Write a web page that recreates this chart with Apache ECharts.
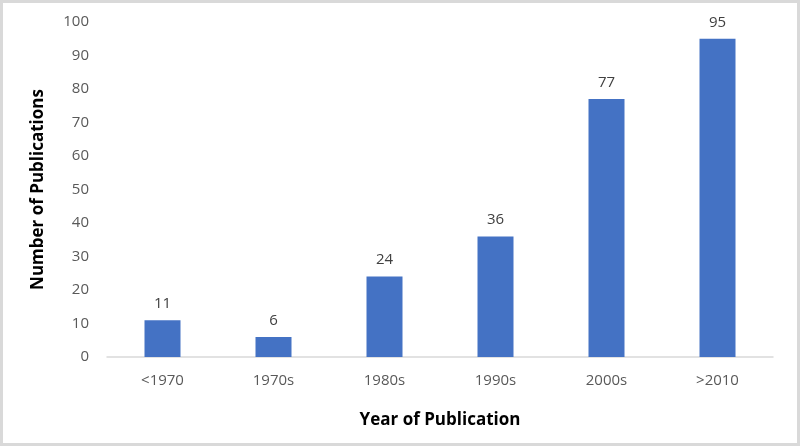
<!DOCTYPE html>
<html><head><meta charset="utf-8">
<script src="https://cdn.jsdelivr.net/npm/echarts@6/dist/echarts.min.js"></script>
<style>html,body{margin:0;padding:0;background:#fff}#c{width:800px;height:446px;box-sizing:border-box;border:3px solid #d9d9d9}</style>
</head><body><div id="c"></div>
<script>
const categories = ['<1970','1970s','1980s','1990s','2000s','>2010'];
const values = [11, 6, 24, 36, 77, 95];
const chart = echarts.init(document.getElementById('c'));
chart.setOption({
  animation:false,
  grid:{left:104,right:24,top:19,bottom:86},
  xAxis:{type:'category',data:categories,
    name:'Year of Publication',nameLocation:'middle',nameGap:55,
    nameTextStyle:{fontFamily:'Open Sans',fontWeight:'bold',fontSize:17,color:'#000'},
    axisLine:{lineStyle:{color:'#d9d9d9',width:1.5}},axisTick:{show:false},
    axisLabel:{fontFamily:'Open Sans',fontSize:15,color:'#595959',margin:16}},
  yAxis:{type:'value',min:0,max:100,interval:10,
    name:'Number of Publications',nameLocation:'middle',nameGap:60,
    nameTextStyle:{fontFamily:'Open Sans',fontWeight:'bold',fontSize:17,color:'#000'},
    splitLine:{show:false},axisLine:{show:false},axisTick:{show:false},
    axisLabel:{fontFamily:'Open Sans',fontSize:15,color:'#595959',margin:18}},
  series:[{type:'bar',data:values,barWidth:36,itemStyle:{color:'#4472c4'},
    label:{show:true,position:'top',distance:9,fontFamily:'Open Sans',fontSize:15,color:'#404040'}}]
});
</script></body></html>
